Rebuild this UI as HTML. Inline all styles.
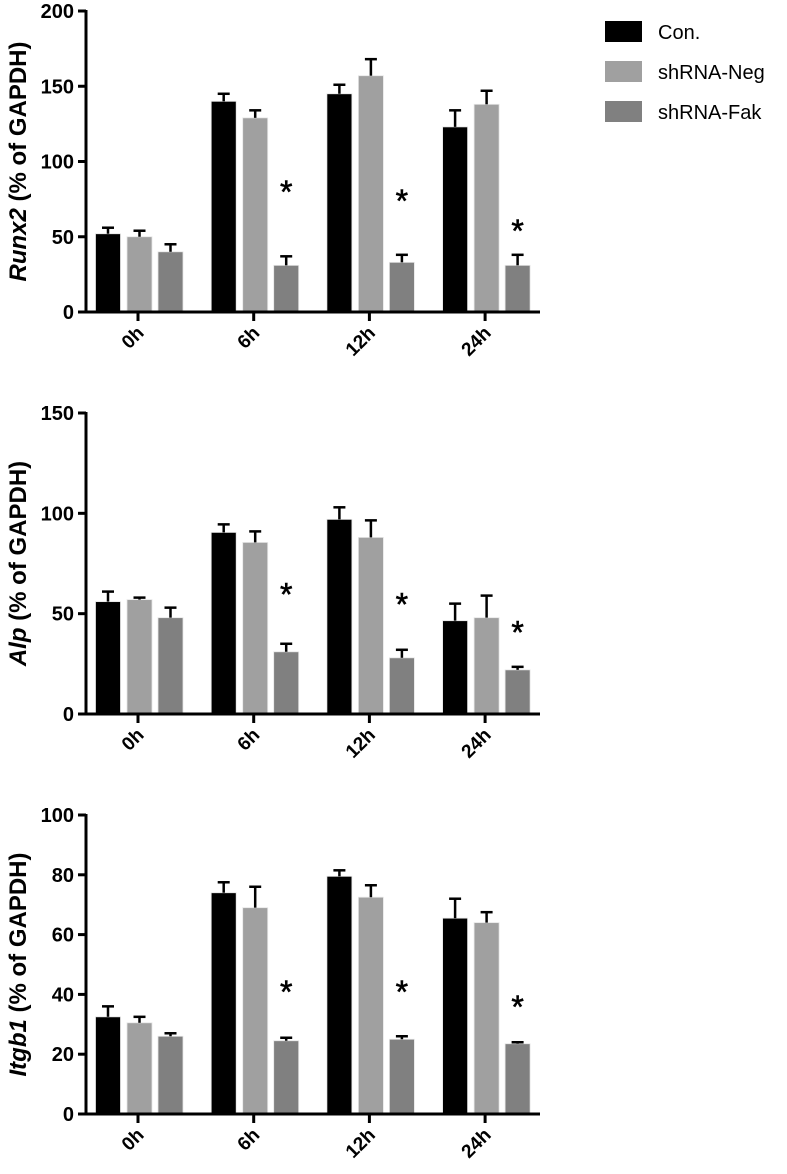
<!DOCTYPE html>
<html><head><meta charset="utf-8"><style>
html,body{margin:0;padding:0;background:#fff;}
svg{display:block;font-family:"Liberation Sans",Arial,sans-serif;}
</style></head><body>
<svg id="chart" width="787" height="1174" viewBox="0 0 787 1174"></svg>
<script>
const categories = ["0h","6h","12h","24h"];
const seriesNames = ["Con.","shRNA-Neg","shRNA-Fak"];
const runx2Means = [[52,140,145,123],[50,129,157,138],[40,31,33,31]];
const runx2Errs = [[56,145,151,134],[54,134,168,147],[45,37,38,38]];
const runx2Stars = [83,77,57];
const alpMeans = [[56,90.5,97,46.5],[57,85.5,88,48],[48,31,28,22]];
const alpErrs = [[61,94.5,103,55],[58,91,96.5,59],[53,35,32,23.5]];
const alpStars = [62,57,43];
const itgMeans = [[32.5,74,79.5,65.5],[30.5,69,72.5,64],[26,24.5,25,23.5]];
const itgErrs = [[36,77.5,81.5,72],[32.5,76,76.5,67.5],[27,25.5,26,24]];
const itgStars = [42.5,42.5,37.5];
const runx2Ticks = [0,50,100,150,200];
const alpTicks = [0,50,100,150];
const itgTicks = [0,20,40,60,80,100];

const svg = document.getElementById('chart');
const NS = "http://www.w3.org/2000/svg";
const colors = ["#000000","#a0a0a0","#808080"];
function mk(tag, attrs, parent){const e=document.createElementNS(NS,tag);for(const k in attrs)e.setAttribute(k,attrs[k]);(parent||svg).appendChild(e);return e;}

function panel(id, title, italicPart, means, errs, stars, ticks, yTop, yBottom){
  const g = mk('g',{});
  
  
  const maxV = ticks[ticks.length-1];
  const y = v => yBottom - (v/maxV)*(yBottom-yTop);
  const axX = 86, axEnd = 540;
  const cx = i => 138 + i*115.7;
  const offs = [-30, 1.5, 32.5];
  for(let s=0;s<3;s++){
    for(let i=0;i<categories.length;i++){
      const x0 = cx(i)+offs[s]-12.5;
      const r = mk('rect',{x:x0,y:y(means[s][i]),width:25,height:yBottom-y(means[s][i]),fill:colors[s],stroke:'#e6e6e6','stroke-width':0.8},g);
      
      
      const ex = cx(i)+offs[s];
      const e1 = mk('line',{x1:ex,x2:ex,y1:y(means[s][i]),y2:y(errs[s][i]),stroke:'#000','stroke-width':2.5},g);
      
      
      mk('line',{x1:ex-6,x2:ex+6,y1:y(errs[s][i]),y2:y(errs[s][i]),stroke:'#000','stroke-width':2.5},g);
    }
  }
  for(let i=1;i<4;i++){
    const t = mk('text',{x:cx(i)+offs[2],y:y(stars[i-1])+16,'font-size':32,'text-anchor':'middle','stroke':'#000','stroke-width':0.6},g);
    t.textContent='*';
    
    
  }
  const ya = mk('line',{x1:axX,x2:axX,y1:yTop-1,y2:yBottom+1.5,stroke:'#000','stroke-width':3},g);
  
  
  const xa = mk('line',{x1:axX-1.5,x2:axEnd,y1:yBottom,y2:yBottom,stroke:'#000','stroke-width':3},g);
  
  
  ticks.forEach(v=>{
    mk('line',{x1:axX-8,x2:axX,y1:y(v),y2:y(v),stroke:'#000','stroke-width':3},g);
    const t = mk('text',{x:axX-12,y:y(v)+7,'font-size':20,'font-weight':'bold','text-anchor':'end'},g);
    t.textContent=v;
    
    
  });
  categories.forEach((c,i)=>{
    mk('line',{x1:cx(i),x2:cx(i),y1:yBottom,y2:yBottom+9,stroke:'#000','stroke-width':3},g);
    const tx = cx(i)+7, ty = yBottom+22;
    const t = mk('text',{x:tx,y:ty,'font-size':19,'font-weight':'bold','text-anchor':'end',transform:`rotate(-45 ${tx} ${ty})`},g);
    t.textContent=c;
    
    
  });
  const my = (yTop+yBottom)/2;
  const yt = mk('text',{x:26,y:my,'font-size':24,'font-weight':'bold','text-anchor':'middle',transform:`rotate(-90 26 ${my})`},g);
  
  
  const it = mk('tspan',{'font-style':'italic'},yt); it.textContent=italicPart;
  const rest = mk('tspan',{},yt); rest.textContent=title;
}
panel('runx2',' (% of GAPDH)','Runx2',runx2Means,runx2Errs,runx2Stars,runx2Ticks,11,312);
panel('alp',' (% of GAPDH)','Alp',alpMeans,alpErrs,alpStars,alpTicks,413,714);
panel('itgb1',' (% of GAPDH)','Itgb1',itgMeans,itgErrs,itgStars,itgTicks,815,1114);

const lg = mk('g',{});


seriesNames.forEach((n,s)=>{
  const yy = 21 + s*40;
  const r = mk('rect',{x:605,y:yy,width:37,height:21,fill:colors[s]},lg);
  
  
  const t = mk('text',{x:658,y:yy+18,'font-size':20},lg);
  t.textContent=n;
  
  
});
</script>
</body></html>
